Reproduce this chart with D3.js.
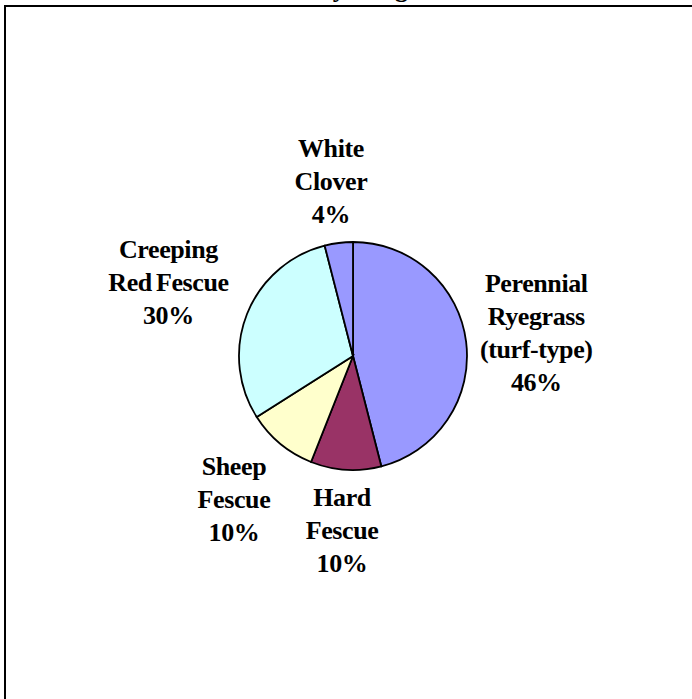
<!DOCTYPE html>
<meta charset="utf-8">
<style>
body { margin: 0; background: #fff; }
.slice { stroke: #000; stroke-width: 1.8; }
.label { font-family: "Liberation Serif", "Times New Roman", serif; font-weight: bold; font-size: 26px; letter-spacing: -0.4px; word-spacing: -2px; fill: #000; }
.title { font-family: "Liberation Serif", "Times New Roman", serif; font-weight: bold; font-size: 26px; fill: #000; }
</style>
<svg width="692" height="699"></svg>
<script src="https://cdn.jsdelivr.net/npm/d3@7"></script>
<script>

// chart data
var names   = ["Perennial Ryegrass (turf-type)", "Hard Fescue", "Sheep Fescue", "Creeping Red Fescue", "White Clover"];
var lines   = [["Perennial", "Ryegrass", "(turf-type)"], ["Hard", "Fescue"], ["Sheep", "Fescue"], ["Creeping", "Red Fescue"], ["White", "Clover"]];
var shares  = [46, 10, 10, 30, 4];
var colors  = ["#9999ff", "#993366", "#ffffcc", "#ccffff", "#9999ff"];
var title   = "Seed Mixture by Weight";

var svg = d3.select("svg"),
    width = +svg.attr("width"),
    height = +svg.attr("height");

// chart frame (runs off the right / bottom of the picture)
svg.append("rect")
    .attr("x", 5).attr("y", 6)
    .attr("width", 720).attr("height", 720)
    .attr("fill", "none")
    .attr("stroke", "#000")
    .attr("stroke-width", 2);

// title sits above the frame, only its descenders show
svg.append("text")
    .attr("class", "title")
    .attr("x", 297)
    .attr("y", -3)
    .attr("text-anchor", "middle")
    .text(title);

var cx = 353, cy = 356, radius = 114;

var data = names.map(function(n, i) {
  return {name: n, lines: lines[i], value: shares[i], color: colors[i]};
});

var pie = d3.pie()
    .sort(null)
    .value(function(d) { return d.value; });

var arc = d3.arc()
    .innerRadius(0)
    .outerRadius(radius);

var g = svg.append("g")
    .attr("transform", "translate(" + cx + "," + cy + ")");

var arcs = pie(data);

g.selectAll(".slice")
  .data(arcs)
  .enter().append("path")
    .attr("class", "slice")
    .attr("fill", function(d) { return d.data.color; })
    .attr("d", arc);

var lineH = 33, gap = 13;

var label = g.selectAll(".label")
  .data(arcs)
  .enter().append("text")
    .attr("class", "label")
    .attr("text-anchor", "middle");

// distance from pie centre to the nearest point of a box centred at (px, py)
function nearest(px, py, hw, hh) {
  var nx = Math.max(Math.abs(px) - hw, 0),
      ny = Math.max(Math.abs(py) - hh, 0);
  return Math.sqrt(nx * nx + ny * ny);
}

label.each(function(d) {
  var t = d3.select(this);
  var rows = d.data.lines.concat([d.data.value + "%"]);
  rows.forEach(function(r, i) {
    t.append("tspan").attr("x", 0).attr("y", i * lineH).text(r);
  });
  var bb = this.getBBox();
  var a = (d.startAngle + d.endAngle) / 2,
      sx = Math.sin(a), sy = -Math.cos(a);
  // push the block out along the mid angle until it clears the pie by `gap`
  var lo = 0, hi = 400;
  for (var k = 0; k < 40; k++) {
    var m = (lo + hi) / 2;
    if (nearest(sx * m, sy * m, bb.width / 2, bb.height / 2) < radius + gap) lo = m; else hi = m;
  }
  var px = sx * hi, py = sy * hi;
  var dx = px - (bb.x + bb.width / 2),
      dy = py - (bb.y + bb.height / 2);
  t.attr("transform", "translate(" + dx + "," + dy + ")");
});

</script>
